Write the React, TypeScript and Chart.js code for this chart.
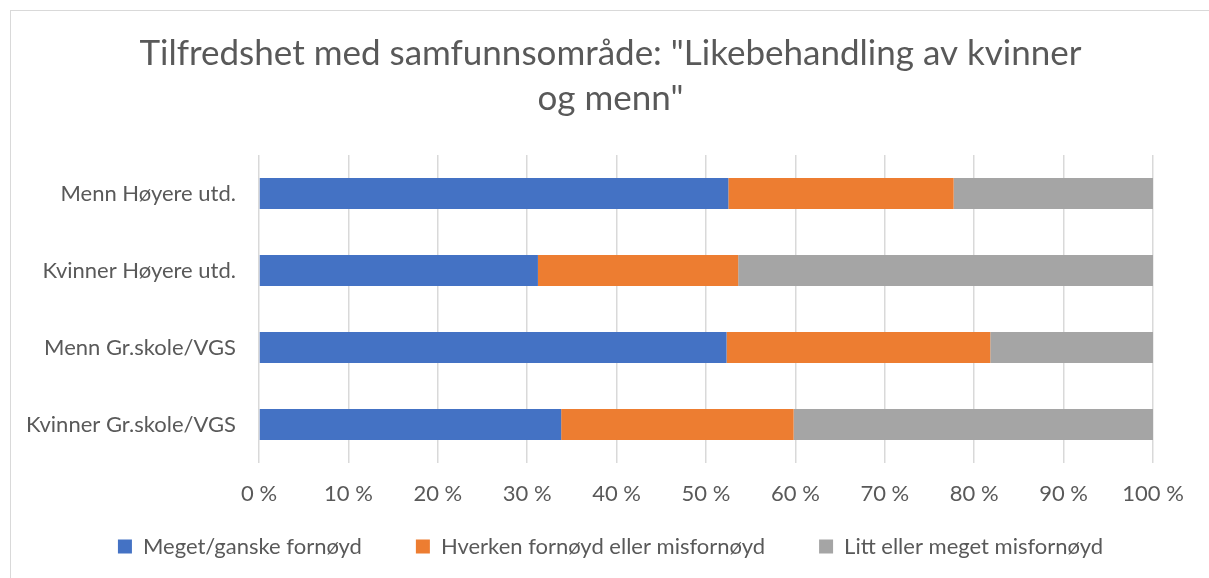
import React, { useEffect, useRef } from 'react';
import { Chart, registerables } from 'chart.js';

Chart.register(...registerables);

const titleLines = ['Tilfredshet med samfunnsområde: "Likebehandling av kvinner', 'og menn"'];
const categories = ['Menn Høyere utd.', 'Kvinner Høyere utd.', 'Menn Gr.skole/VGS', 'Kvinner Gr.skole/VGS'];
const seriesNames = ['Meget/ganske fornøyd', 'Hverken fornøyd eller misfornøyd', 'Litt eller meget misfornøyd'];
const fornoyd = [52.5, 31.2, 52.3, 33.8];
const hverken = [25.2, 22.4, 29.5, 26.0];
const misfornoyd = [22.3, 46.4, 18.2, 40.2];
const xMin = 0;
const xMax = 100;
const xStep = 10;
const tickSuffix = ' %';

const colors = ['#4472C4', '#ED7D31', '#A5A5A5'];
const textColor = '#595959';
const gridColor = '#D9D9D9';
const FONT = 'Lato, "Open Sans", sans-serif';

export default function App() {
  const canvasRef = useRef<HTMLCanvasElement | null>(null);

  useEffect(() => {
    const canvas = canvasRef.current;
    if (!canvas) return;

    const legendPlace = {
      id: 'legendPlace',
      beforeInit(chart: any) {
        const legend = chart.legend;
        if (!legend) return;
        const orig = legend.fit;
        legend.fit = function () {
          orig.call(this);
          this.height = 70;
        };
      },
      afterLayout(chart: any) {
        const legend = chart.legend;
        if (!legend) return;
        legend.top = legend.top - 26.5;
      },
    };

    const chart = new Chart(canvas, {
      type: 'bar',
      data: {
        labels: categories,
        datasets: [
          { label: seriesNames[0], data: fornoyd, backgroundColor: colors[0], barPercentage: 0.4, categoryPercentage: 1 },
          { label: seriesNames[1], data: hverken, backgroundColor: colors[1], barPercentage: 0.4, categoryPercentage: 1 },
          { label: seriesNames[2], data: misfornoyd, backgroundColor: colors[2], barPercentage: 0.4, categoryPercentage: 1 },
        ],
      },
      options: {
        indexAxis: 'y',
        animation: false,
        responsive: false,
        maintainAspectRatio: false,
        layout: { padding: { left: 12, right: 0, top: 0, bottom: 0 } },
        plugins: {
          title: {
            display: true,
            text: titleLines,
            color: textColor,
            font: { family: FONT, size: 35, weight: 'normal', lineHeight: 1.306 },
            padding: { top: 30.5, bottom: 33.1 },
          },
          legend: {
            position: 'bottom',
            labels: {
              color: textColor,
              font: { family: FONT, size: 22 },
              boxWidth: 14,
              boxHeight: 14,
              padding: 54,
            },
          },
          tooltip: { enabled: false },
        },
        scales: {
          x: {
            type: 'linear',
            stacked: true,
            min: xMin,
            max: xMax,
            ticks: {
              stepSize: xStep,
              color: textColor,
              font: { family: FONT, size: 22 },
              padding: 17.6,
              callback: (v: any) => `${v}${tickSuffix}`,
            },
            grid: { color: gridColor, lineWidth: 1.5, drawTicks: false },
            border: { display: false },
            afterFit: (s: any) => { s.height = 45; },
          },
          y: {
            type: 'category',
            stacked: true,
            ticks: {
              color: textColor,
              font: { family: FONT, size: 22 },
              padding: 23,
            },
            grid: { display: false, drawTicks: false },
            border: { display: false },
            afterFit: (s: any) => { s.width = 247; },
          },
          yR: {
            type: 'linear',
            position: 'right',
            display: true,
            ticks: { display: false },
            grid: { display: false, drawTicks: false },
            border: { display: false },
            afterFit: (s: any) => { s.width = 56; },
          },
        },
      } as any,
      plugins: [legendPlace],
    });

    return () => chart.destroy();
  }, []);

  return (
    <div style={{ position: 'fixed', left: 0, top: 0, width: 1209, height: 578, overflow: 'hidden', background: '#fff' }}>
      <div style={{ position: 'absolute', left: 10, top: 10, width: 1240, height: 620, border: '1px solid #D9D9D9', boxSizing: 'border-box' }} />
      <canvas ref={canvasRef} width={1209} height={578} style={{ position: 'absolute', left: 0, top: 0, width: 1209, height: 578 }} />
    </div>
  );
}
